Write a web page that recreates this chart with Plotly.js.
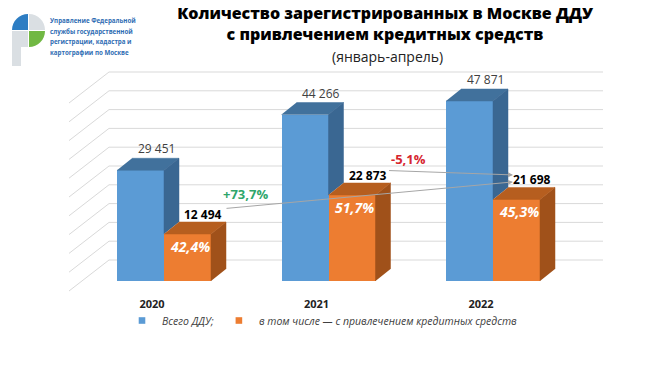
<!DOCTYPE html>
<html><head><meta charset="utf-8">
<script src="https://cdn.plot.ly/plotly-3.0.1.min.js"></script>
<style>
html,body{margin:0;padding:0;background:#fff}
#chart{width:650px;height:367px}
.legendpoints path{transform:translate(20px,0) scale(0.55)}
</style>
</head><body><div id="chart"></div>
<script>
// ---------- data ----------
const years = [2020, 2021, 2022];
const totalDDU = [29451, 44266, 47871];
const creditDDU = [12494, 22873, 21698];
const seriesNames = ['Всего ДДУ;', 'в том числе — с привлечением кредитных средств'];
const gridValues = [0, 5000, 10000, 15000, 20000, 25000, 30000, 35000, 40000, 45000, 50000];
const titleLines = ['Количество зарегистрированных в Москве ДДУ', 'с привлечением кредитных средств', '(январь-апрель)'];
const logoLines = ['Управление Федеральной', 'службы государственной', 'регистрации, кадастра и', 'картографии по Москве'];

// ---------- geometry ----------
const W = 650, H = 367;
const M = {l: 60, r: 30, t: 60, b: 75};
const plotW = W - M.l - M.r, plotH = H - M.t - M.b;
const pxPerYear = 164.5, pxPerUnit = 0.00376;
const firstTickPx = 152 - M.l, zeroPx = 281 - M.t;
const xRange = [years[0] - firstTickPx / pxPerYear, years[0] + (plotW - firstTickPx) / pxPerYear];
const yRange = [-(plotH - zeroPx) / pxPerUnit, zeroPx / pxPerUnit];
const dxU = p => p / pxPerYear, dyU = p => p / pxPerUnit;
const groupShift = dxU(12), barW = dxU(47), depX = dxU(15), depY = dyU(12);

const C = {blue: '#5B9BD5', blueTop: '#41719C', blueSide: '#3A6792',
           orange: '#ED7D31', orangeTop: '#B65E1F', orangeSide: '#A0511A', grid: '#D9D9D9'};

const fmt = n => String(n).replace(/\B(?=(\d{3})+(?!\d))/g, ' ');
const pct = v => (v > 0 ? '+' : '') + v.toFixed(1).replace('.', ',') + '%';

const blueX = years.map(y => y + groupShift - barW / 2);
const orangeX = years.map(y => y + groupShift + barW / 2);

const traces = [
  {type: 'bar', name: seriesNames[0], x: blueX, y: totalDDU, width: barW,
   marker: {color: C.blue, line: {width: 0}}, hoverinfo: 'x+y'},
  {type: 'bar', name: seriesNames[1], x: orangeX, y: creditDDU, width: barW,
   marker: {color: C.orange, line: {width: 0}}, hoverinfo: 'x+y'}
];
function face(pts, color) {
  traces.push({type: 'scatter', mode: 'lines', x: pts.map(p => p[0]), y: pts.map(p => p[1]),
    fill: 'toself', fillcolor: color, line: {color: color, width: 0.5},
    hoverinfo: 'skip', showlegend: false});
}
years.forEach((yr, i) => {
  const vb = totalDDU[i], vo = creditDDU[i];
  const bl = blueX[i] - barW / 2, br = blueX[i] + barW / 2, orr = orangeX[i] + barW / 2;
  face([[bl, vb], [br, vb], [br + depX, vb + depY], [bl + depX, vb + depY]], C.blueTop);
  face([[br, vo], [br, vb], [br + depX, vb + depY], [br + depX, vo + depY]], C.blueSide);
  face([[orr, 0], [orr, vo], [orr + depX, vo + depY], [orr + depX, depY]], C.orangeSide);
  face([[br, vo], [orr, vo], [orr + depX, vo + depY], [br + depX, vo + depY]], C.orangeTop);
});

// back wall grid + left wall diagonals
const wallDy = dyU(21), floorDy = dyU(-10);
const backLeft = years[0] - dxU(43), backRight = years[2] + dxU(122), diagLeft = backLeft - dxU(40);
const shapes = [];
gridValues.forEach(v => {
  shapes.push({type: 'line', xref: 'x', yref: 'y', layer: 'below', x0: backLeft, x1: backRight,
    y0: v + wallDy, y1: v + wallDy, line: {color: C.grid, width: 1}});
  shapes.push({type: 'line', xref: 'x', yref: 'y', layer: 'below', x0: diagLeft, x1: backLeft,
    y0: v + floorDy, y1: v + wallDy, line: {color: C.grid, width: 1}});
});

// logo (decoration, pixel-based in paper coords)
const pX = px => (px - M.l) / plotW, pY = py => (H - M.b - py) / plotH;
function path(cmds) {
  return cmds.map(c => c[0] + (c.length > 1 ? c.slice(1).reduce((a, v, k) => a.concat(k % 2 ? pY(v) : pX(v)), []).map(n => n.toFixed(5)).join(',') : '')).join(' ');
}
const k = 8.8;
const logo = [
  [[['M', 12, 30], ['C', 12, 30 - k, 28 - k, 14, 28, 14], ['L', 28, 30], ['Z']], '#2D7DC3'],
  [[['M', 29, 14], ['C', 29 + k, 14, 45, 30 - k, 45, 30], ['L', 29, 30], ['Z']], '#DADFE3'],
  [[['M', 45, 31], ['C', 45, 31 + k, 29 + k, 47, 29, 47], ['L', 29, 31], ['Z']], '#71B843'],
  [[['M', 12, 31], ['L', 28, 31], ['L', 28, 47], ['L', 21, 47], ['L', 21, 66], ['L', 12, 66], ['Z']], '#DADFE3']
];
logo.forEach(([cmds, col]) => shapes.push({type: 'path', xref: 'paper', yref: 'paper', path: path(cmds),
  fillcolor: col, line: {width: 0}, layer: 'above'}));

// annotations
const ann = [];
const orangeLbl = years.map((yr, i) => ({x: orangeX[i] + depX + dxU(0.5), y: creditDDU[i] + depY + dyU(7.5)}));
years.forEach((yr, i) => {
  ann.push({x: blueX[i] + depX + dxU(1), y: totalDDU[i] + depY, yanchor: 'bottom', yshift: -1, showarrow: false,
    text: fmt(totalDDU[i]), font: {family: 'Open Sans', size: 12, color: '#404040'}});
  ann.push({x: orangeLbl[i].x, y: orangeLbl[i].y, yanchor: 'middle', showarrow: false,
    text: '<b>' + fmt(creditDDU[i]) + '</b>', font: {family: 'Open Sans', size: 12, color: '#000'}});
  ann.push({x: orangeX[i] + dxU(2), y: creditDDU[i], yanchor: 'top', yshift: -1, showarrow: false,
    text: '<b><i>' + pct(creditDDU[i] / totalDDU[i] * 100).replace('+', '') + '</i></b>',
    font: {family: 'Open Sans', size: 14, color: '#FFFFFF'}});
});
const L0 = orangeLbl[0], L1 = orangeLbl[1], L2 = orangeLbl[2];
ann.push({x: L2.x - dxU(19), y: L2.y - dyU(2), ax: L0.x + dxU(22), ay: L0.y + dyU(6), axref: 'x', ayref: 'y',
  text: '', showarrow: true, arrowhead: 2, arrowsize: 1, arrowwidth: 1, arrowcolor: '#A6A6A6', standoff: 0});
ann.push({x: L2.x - dxU(19), y: L2.y + dyU(5), ax: L1.x + dxU(20), ay: L1.y + dyU(5), axref: 'x', ayref: 'y',
  text: '', showarrow: true, arrowhead: 2, arrowsize: 1, arrowwidth: 1, arrowcolor: '#A6A6A6', standoff: 0});
ann.push({x: L0.x + dxU(42), y: L0.y + dyU(21), showarrow: false,
  text: '<b>' + pct((creditDDU[2] / creditDDU[0] - 1) * 100) + '</b>', font: {family: 'Open Sans', size: 13, color: '#2EA66B'}});
ann.push({x: L1.x + dxU(41), y: L1.y + dyU(17), showarrow: false,
  text: '<b>' + pct((creditDDU[2] / creditDDU[1] - 1) * 100) + '</b>', font: {family: 'Open Sans', size: 13, color: '#D6262F'}});
// subtitle line
ann.push({xref: 'paper', yref: 'paper', x: pX(387), y: pY(57), xanchor: 'center', yanchor: 'middle', showarrow: false,
  text: titleLines[2], font: {family: 'Open Sans', size: 14, color: '#222'}});
// logo text
logoLines.forEach((t, i) => ann.push({xref: 'paper', yref: 'paper', x: pX(48), y: pY(21 + i * 10.5), xanchor: 'left',
  yanchor: 'middle', align: 'left', showarrow: false, text: '<b>' + t + '</b>',
  font: {family: 'Open Sans', size: 6.2, color: '#2F6DB3'}}));

const layout = {
  width: W, height: H, margin: M, paper_bgcolor: '#fff', plot_bgcolor: 'rgba(0,0,0,0)',
  barmode: 'overlay', bargap: 0,
  title: {text: titleLines[0] + '<br>' + titleLines[1],
    x: 385 / W, xanchor: 'center', xref: 'container', y: 1 - 19 / H, yanchor: 'top', yref: 'container',
    font: {family: 'Open Sans', size: 16, color: '#000', weight: 800}},
  xaxis: {range: xRange, tickvals: years, ticktext: years.map(y => '<b>' + y + '</b>'), showgrid: false, zeroline: false,
    showline: false, ticks: '', ticklabelstandoff: 4, tickfont: {family: 'Open Sans', size: 11, color: '#222'}, fixedrange: true},
  yaxis: {range: yRange, visible: false, showgrid: false, zeroline: false, fixedrange: true},
  showlegend: true,
  legend: {orientation: 'h', x: pX(122), xanchor: 'left', y: pY(306), yanchor: 'top', bgcolor: 'rgba(0,0,0,0)',
    font: {family: 'Open Sans', size: 10.5, color: '#404040', style: 'italic'}, itemclick: false, itemdoubleclick: false},
  shapes: shapes, annotations: ann
};
Plotly.newPlot('chart', traces, layout, {displayModeBar: false, staticPlot: true});
</script>
</body></html>
